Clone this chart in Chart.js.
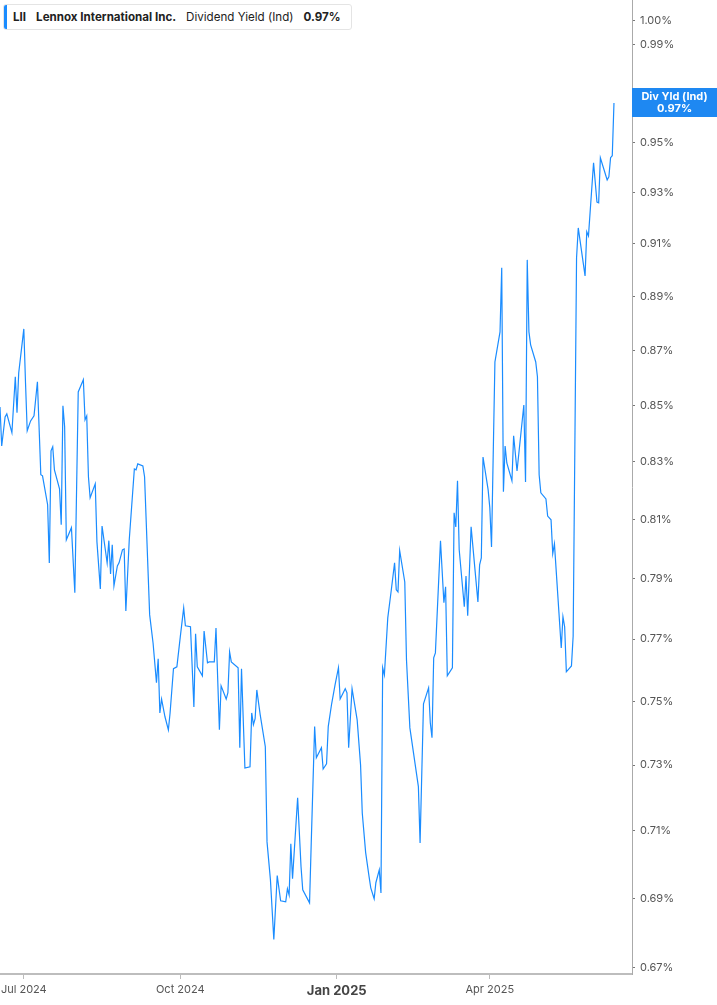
<!DOCTYPE html>
<html>
<head>
<meta charset="utf-8">
<script src="https://cdn.jsdelivr.net/npm/chart.js@4.4.1/dist/chart.umd.min.js"></script>
<style>
  html, body { margin: 0; padding: 0; background: #fff; }
  #wrap { position: relative; width: 717px; height: 1005px; }
  #legend {
    position: absolute; left: 3px; top: 4px; width: 349px; height: 26px;
    box-sizing: border-box; border: 1px solid #e4e4e4; border-radius: 3px;
    background: #fff; font: 11.6px Inter, "Noto Sans", sans-serif; color: #222;
    display: flex; align-items: center; padding-left: 9px; white-space: nowrap;
  }
  #legend .bar { position: absolute; left: 0; top: 0; bottom: 0; width: 3px; background: #1a8cff; border-radius: 2px 0 0 2px; }
  #legend b { font-weight: 700; }
  #legend span { margin-right: 10px; }
</style>
</head>
<body>
<div id="wrap">
  <canvas id="yieldChart" width="717" height="1005"></canvas>
  <div id="legend">
    <div class="bar"></div>
    <span><b>LII</b></span>
    <span><b>Lennox International Inc.</b></span>
    <span>Dividend Yield (Ind)</span>
    <span><b id="legendValue"></b></span>
  </div>
</div>
<script>
// days counted from 2024-07-01
const dayOffsets = [
  -14, -13, -11, -10, -7, -5, -4, -3, 0, 1, 2, 4, 6, 8, 10, 11, 14, 15, 16, 17, 18, 21, 22, 23, 24, 25, 28, 30, 32, 35, 36, 37, 38, 39, 42, 43, 45,
  46, 49, 50, 51, 52, 53, 55, 56, 58, 59, 60, 62, 65, 66, 67, 70, 71, 74, 76, 78, 79, 80, 81, 83, 85, 86, 88, 90, 92, 94, 95, 98,
  100, 101, 102, 105, 106, 108, 109, 112, 113, 115, 116, 119, 120, 121, 122, 126, 127, 128, 130, 133, 134, 135, 136, 137, 139, 142, 143, 145, 147, 149, 151, 154, 155, 156, 157,
  158, 161, 163, 164, 168, 169, 171, 172, 175, 176, 178, 179, 181, 183, 185, 186, 189, 190, 191, 193, 196, 198, 199, 201, 203, 204, 206, 207, 209, 210, 211, 212, 214,
  216, 218, 219, 220, 221, 224, 225, 227, 232, 233, 235, 238, 239, 240, 241, 242, 245, 247, 248, 249, 252,
  253, 254, 255, 256, 259, 260, 261, 263, 267, 268, 269, 270, 273, 274, 275, 277, 280, 281, 282, 283, 284, 287, 288, 290, 294, 295, 296, 297, 298, 301, 302, 303,
  304, 307, 308, 310, 311, 312, 316, 317, 318, 319, 322, 323, 325, 326, 330, 331, 332, 335, 337, 338, 339, 343, 344, 345, 346, 347
];

// dividend yield (ind), percent
const yieldPct = [
  0.8494, 0.8355, 0.8458, 0.8469, 0.8402, 0.8603, 0.8473, 0.8617, 0.8779, 0.8581, 0.8409, 0.8444, 0.8462, 0.8585, 0.8254, 0.8250, 0.8150, 0.7952, 0.8338, 0.8352, 0.8271, 0.8205, 0.8081, 0.8498, 0.8423, 0.8030, 0.8071, 0.7852, 0.8548, 0.8592, 0.8448, 0.8462, 0.8247, 0.8174, 0.8222, 0.8023, 0.7865,
  0.8077, 0.7952, 0.8027, 0.7915, 0.8013, 0.7875, 0.7942, 0.7952, 0.7996, 0.7999, 0.7792, 0.8030, 0.8274, 0.8271, 0.8292, 0.8285, 0.8247, 0.7779, 0.7687, 0.7559, 0.7636, 0.7463, 0.7507, 0.7451, 0.7410, 0.7463, 0.7604, 0.7610, 0.7707, 0.7802, 0.7743, 0.7740,
  0.7482, 0.7717, 0.7610, 0.7581, 0.7726, 0.7623, 0.7626, 0.7626, 0.7736, 0.7410, 0.7549, 0.7507, 0.7527, 0.7658, 0.7626, 0.7607, 0.7354, 0.7604, 0.7291, 0.7295, 0.7463, 0.7426, 0.7445, 0.7536, 0.7457, 0.7357, 0.7067, 0.6955, 0.6781, 0.6967, 0.6893, 0.6890, 0.6928, 0.6910, 0.7061,
  0.6958, 0.7200, 0.6993, 0.6925, 0.6887, 0.7064, 0.7420, 0.7323, 0.7354, 0.7288, 0.7304, 0.7420, 0.7492, 0.7552, 0.7607, 0.7507, 0.7540, 0.7527, 0.7354, 0.7540, 0.7441, 0.7301, 0.7154, 0.7035, 0.6964, 0.6931, 0.6899, 0.6946, 0.6984, 0.6916, 0.7607, 0.7584, 0.7769,
  0.7858, 0.7952, 0.7862, 0.7855, 0.7993, 0.7888, 0.7633, 0.7416, 0.7234, 0.7064, 0.7492, 0.7543, 0.7432, 0.7385, 0.7639, 0.7655, 0.8027, 0.7819, 0.7872, 0.7581, 0.7607,
  0.8122, 0.8074, 0.8233, 0.7996, 0.7806, 0.7908, 0.7776, 0.8074, 0.7822, 0.7945, 0.7969, 0.8316, 0.8202, 0.8139, 0.8006, 0.8657, 0.8768, 0.9009, 0.8195, 0.8355, 0.8295, 0.8233, 0.8391, 0.8267, 0.8501, 0.8229, 0.9039, 0.8768, 0.8720, 0.8657, 0.8603, 0.8254,
  0.8191, 0.8170, 0.8111, 0.8098, 0.7983, 0.8016, 0.7671, 0.7773, 0.7740, 0.7594, 0.7613, 0.7710, 0.9047, 0.9162, 0.8978, 0.9147, 0.9131, 0.9418, 0.9263, 0.9260, 0.9438, 0.9350, 0.9362, 0.9438, 0.9446, 0.9659
];

const xTickDays = [0, 92, 184, 274];
const xTickLabels = ["Jul 2024", "Oct 2024", "Jan 2025", "Apr 2025"];
const yTickValues = [0.67, 0.69, 0.71, 0.73, 0.75, 0.77, 0.79, 0.81, 0.83, 0.85, 0.87, 0.89, 0.91, 0.93, 0.95, 0.97, 0.99, 1.00];
const yMin = 0.6683;
const yMax = 1.0089;

const lineBlue = "#1a8cff";
const lastValue = yieldPct[yieldPct.length - 1];
document.getElementById("legendValue").textContent = lastValue.toFixed(2) + "%";

const points = dayOffsets.map((d, i) => ({ x: d, y: yieldPct[i] }));

// blue value tag on the right axis
const lastTag = {
  id: "lastTag",
  afterDraw(chart) {
    const c = chart.ctx;
    const y = chart.scales.y.getPixelForValue(lastValue);
    const left = chart.chartArea.right;
    const right = chart.width;
    c.save();
    c.fillStyle = "#1e88f2";
    c.fillRect(left, Math.round(y) - 15, right - left, 29);
    c.fillStyle = "#fff";
    c.font = "bold 11px Inter, sans-serif";
    c.textAlign = "center";
    c.textBaseline = "middle";
    const cx = (left + right) / 2;
    c.fillText("Div Yld (Ind)", cx, y - 6);
    c.fillText(lastValue.toFixed(2) + "%", cx, y + 6);
    c.restore();
  },
};

new Chart(document.getElementById("yieldChart"), {
  type: "line",
  data: {
    datasets: [
      {
        label: "Dividend Yield (Ind)",
        data: points,
        borderColor: lineBlue,
        borderWidth: 1.2,
        pointRadius: 0,
        tension: 0,
        fill: false,
      },
    ],
  },
  options: {
    responsive: false,
    animation: false,
    layout: { padding: 0 },
    plugins: { legend: { display: false }, tooltip: { enabled: false } },
    scales: {
      x: {
        type: "linear",
        min: -14,
        max: 357.6,
        afterBuildTicks: (scale) => {
          scale.ticks = xTickDays.map((v) => ({ value: v }));
        },
        afterFit: (scale) => {
          scale.height = 31;
          scale.paddingLeft = 0;
          scale.paddingRight = 0;
        },
        ticks: {
          autoSkip: false,
          maxRotation: 0,
          padding: 4,
          color: (ctx) => (ctx.index === 2 ? "#444" : "#555"),
          font: (ctx) =>
            ctx.index === 2
              ? { family: "Inter, sans-serif", size: 13, weight: "bold" }
              : { family: "Inter, sans-serif", size: 11 },
          callback: (v, i) => xTickLabels[i],
        },
        grid: { drawOnChartArea: false, drawTicks: true, tickLength: 5, color: "#bbb" },
        border: { display: true, color: "#bdbdbd", width: 2 },
      },
      y: {
        type: "logarithmic",
        position: "right",
        bounds: "data",
        min: yMin,
        max: yMax,
        afterBuildTicks: (scale) => {
          scale.ticks = yTickValues.map((v) => ({ value: v }));
        },
        afterFit: (scale) => {
          scale.width = 85;
          scale.paddingTop = 0;
          scale.paddingBottom = 0;
        },
        ticks: {
          autoSkip: false,
          padding: 5,
          color: "#555",
          font: { family: "Inter, sans-serif", size: 11 },
          callback: (v) => Number(v).toFixed(2) + "%",
        },
        grid: { drawOnChartArea: false, drawTicks: true, tickLength: 3, color: "#777" },
        border: { display: true, color: "#aaa", width: 1 },
      },
    },
  },
  plugins: [lastTag],
});
</script>
</body>
</html>
